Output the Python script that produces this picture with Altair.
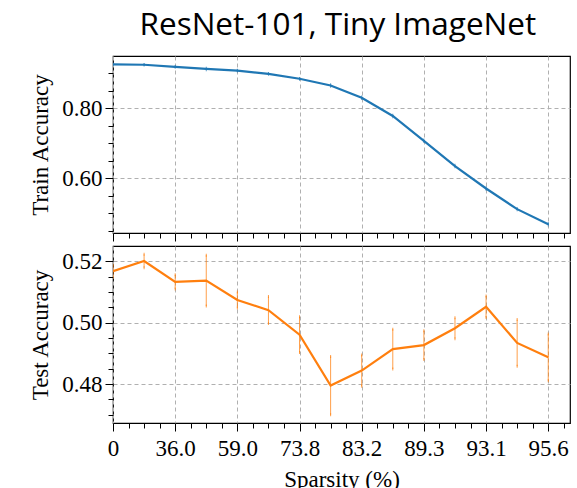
import altair as alt
import pandas as pd

sparsity_labels = ["0", "36.0", "59.0", "73.8", "83.2", "89.3", "93.1", "95.6"]
step = list(range(15))
train_acc = [0.925, 0.924, 0.918, 0.912, 0.907, 0.898, 0.884, 0.865, 0.830,
             0.778, 0.707, 0.635, 0.571, 0.512, 0.469]
train_err = [0.001, 0.001, 0.001, 0.002, 0.001, 0.001, 0.001, 0.002, 0.002,
             0.002, 0.002, 0.002, 0.002, 0.002, 0.002]
test_acc = [0.5168, 0.5201, 0.5133, 0.5137, 0.5074, 0.5041, 0.4961, 0.4795,
            0.4844, 0.4914, 0.4927, 0.4982, 0.5052, 0.4934, 0.4887]
test_err = [0.0020, 0.0022, 0.0023, 0.0083, 0.0026, 0.0044, 0.0058, 0.0095,
            0.0051, 0.0065, 0.0047, 0.0034, 0.0035, 0.0076, 0.0076]

train_major = [0.6, 0.8]
test_major = [0.48, 0.5, 0.52]
train_ticks = [0.45, 0.5, 0.55, 0.6, 0.65, 0.7, 0.75, 0.8, 0.85, 0.9]
test_ticks = [0.47, 0.475, 0.48, 0.485, 0.49, 0.495, 0.5, 0.505, 0.51, 0.515,
              0.52]

train_df = pd.DataFrame({"step": step, "acc": train_acc,
                         "lo": [a - e for a, e in zip(train_acc, train_err)],
                         "hi": [a + e for a, e in zip(train_acc, train_err)]})
test_df = pd.DataFrame({"step": step, "acc": test_acc,
                        "lo": [a - e for a, e in zip(test_acc, test_err)],
                        "hi": [a + e for a, e in zip(test_acc, test_err)]})

W, H = 457, 177
SERIF = "Liberation Serif"
GRID_COLOR = "#b0b0b0"

x_ticks = [i * 0.5 for i in range(30)]
label_arr = "[" + ",".join("'" + s + "'" for s in sparsity_labels) + "]"
x_major = "datum.value % 2 == 0"
x_label_expr = "(" + x_major + ") ? " + label_arr + "[datum.value / 2] : ''"


def x_axis(show_labels):
    common = dict(
        values=x_ticks,
        tickSize={"condition": {"test": x_major, "value": 8}, "value": 5},
        gridOpacity={"condition": {"test": x_major, "value": 1}, "value": 0},
        grid=True,
        gridDash=[4, 3],
        gridColor=GRID_COLOR,
        labelFlush=False,
        labelOverlap=False,
    )
    if show_labels:
        return alt.Axis(labelExpr=x_label_expr, title="Sparsity (%)",
                        labelPadding=6, titlePadding=8, **common)
    return alt.Axis(labels=False, title=None, labelPadding=0, titlePadding=0,
                    labelFontSize=1, titleFontSize=1, **common)


def y_axis(title, values, majors):
    test = " || ".join("abs(datum.value - " + repr(m) + ") < 0.0001" for m in majors)
    return alt.Axis(
        values=values,
        title=title,
        labelExpr="(" + test + ") ? format(datum.value, '.2f') : ''",
        tickSize={"condition": {"test": test, "value": 8}, "value": 5},
        gridOpacity={"condition": {"test": test, "value": 1}, "value": 0},
        grid=True,
        gridDash=[4, 3],
        gridColor=GRID_COLOR,
        labelPadding=3,
        titlePadding=9,
        labelOverlap=False,
    )


def panel(df, color, ydomain, yvalues, majors, ytitle, show_x):
    xax = x_axis(show_x)
    yax = y_axis(ytitle, yvalues, majors)
    xsc = alt.Scale(domain=[0, 14.7], nice=False, zero=False)
    ysc = alt.Scale(domain=ydomain, nice=False, zero=False)

    def X():
        if show_x:
            return alt.X("step:Q", scale=xsc, axis=xax, title="Sparsity (%)")
        return alt.X("step:Q", scale=xsc, axis=xax, title=None)

    def Y(field):
        return alt.Y(field + ":Q", scale=ysc, axis=yax, title=ytitle)

    base = alt.Chart(df)
    err = base.mark_rule(color=color, strokeWidth=1, opacity=0.75, clip=True).encode(
        x=X(), y=Y("lo"), y2="hi:Q")
    cap_lo = base.mark_tick(color=color, size=3, thickness=1, opacity=0.75,
                            clip=True).encode(x=X(), y=Y("lo"))
    cap_hi = base.mark_tick(color=color, size=3, thickness=1, opacity=0.75,
                            clip=True).encode(x=X(), y=Y("hi"))
    line = base.mark_line(color=color, strokeWidth=2.2, clip=True).encode(
        x=X(), y=Y("acc"))
    return alt.layer(err, cap_lo, cap_hi, line).properties(width=W, height=H)


top = panel(train_df, "#1f77b4", [0.444, 0.949], train_ticks, train_major,
            "Train Accuracy", False)
bottom = panel(test_df, "#ff7f0e", [0.4673, 0.525], test_ticks, test_major,
               "Test Accuracy", True)

chart = alt.vconcat(top, bottom, spacing=1).properties(
    background="white",
    padding={"left": 29, "top": 9, "right": 3, "bottom": 3},
    title=alt.TitleParams("ResNet-101, Tiny ImageNet", font="Open Sans", fontSize=31.5,
                          fontWeight="normal", anchor="middle", color="black",
                          offset=14, dx=38)
).configure_view(stroke="black", strokeWidth=1.2).configure_axis(
    labelFont=SERIF, labelFontSize=23, titleFont=SERIF, titleFontSize=23,
    titleFontWeight="normal", labelColor="black", titleColor="black",
    tickColor="black", domain=False
)

chart.save("out.html", embed_options={"renderer": "svg", "actions": False})
